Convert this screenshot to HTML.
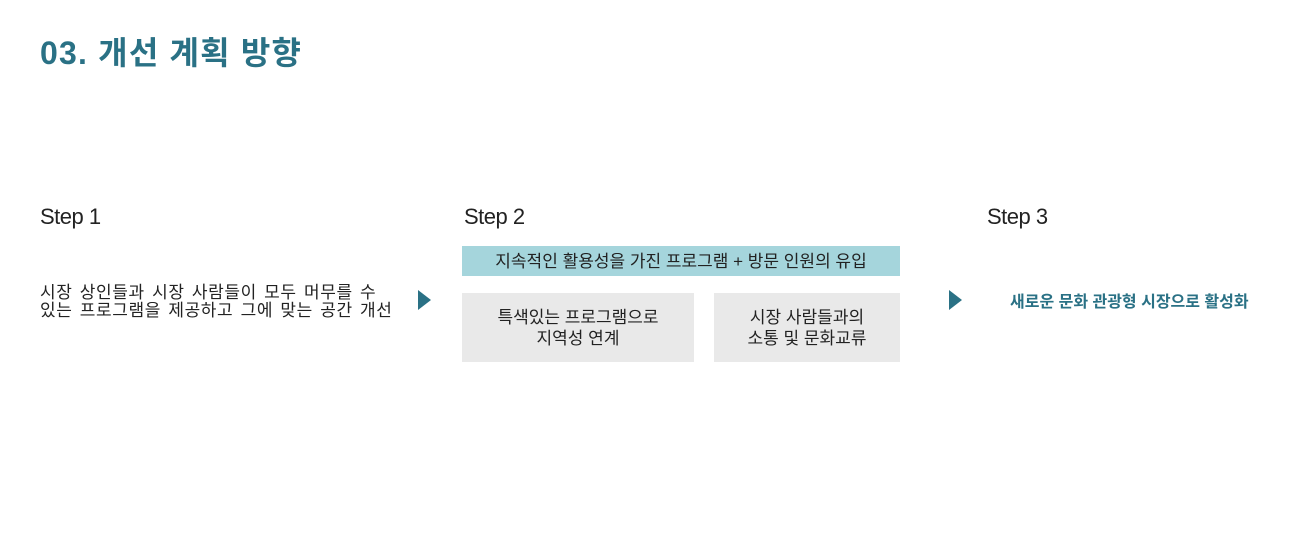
<!DOCTYPE html>
<html><head><meta charset="utf-8"><style>
body{margin:0;width:1300px;height:548px;background:#fff;position:relative;overflow:hidden;font-family:"Liberation Sans","Noto Sans CJK KR",sans-serif;color:#222}
.a{position:absolute}
.t{left:40px;top:28px;font-size:32px;font-weight:bold;color:#2a7185;letter-spacing:1.2px}
.s{font-size:22px;top:204px;letter-spacing:-0.5px}
.box{background:#e9e9e9;display:flex;align-items:center;justify-content:center;text-align:center;font-size:17px;line-height:21px}
.tri{width:0;height:0;border-top:10px solid transparent;border-bottom:10px solid transparent;border-left:13px solid #2a7185}
</style></head><body>
<div class="a t">03. 개선 계획 방향</div>
<div class="a s" style="left:40px">Step 1</div>
<div class="a s" style="left:464px">Step 2</div>
<div class="a s" style="left:987px">Step 3</div>
<div class="a" style="left:40px;top:284px;font-size:17px;line-height:18px;white-space:nowrap;letter-spacing:0.6px;word-spacing:2px">시장 상인들과 시장 사람들이 모두 머무를 수<br>있는 프로그램을 제공하고 그에 맞는 공간 개선</div>
<div class="a tri" style="left:418px;top:290px"></div>
<div class="a box" style="left:462px;top:246px;width:438px;height:30px;background:#a5d5dc;font-size:17px">지속적인 활용성을 가진 프로그램 + 방문 인원의 유입</div>
<div class="a box" style="left:462px;top:293px;width:232px;height:69px">특색있는 프로그램으로<br>지역성 연계</div>
<div class="a box" style="left:714px;top:293px;width:186px;height:69px">시장 사람들과의<br>소통 및 문화교류</div>
<div class="a tri" style="left:949px;top:290px"></div>
<div class="a" style="left:1010px;top:288px;font-size:16px;font-weight:bold;color:#2a7185">새로운 문화 관광형 시장으로 활성화</div>
</body></html>
